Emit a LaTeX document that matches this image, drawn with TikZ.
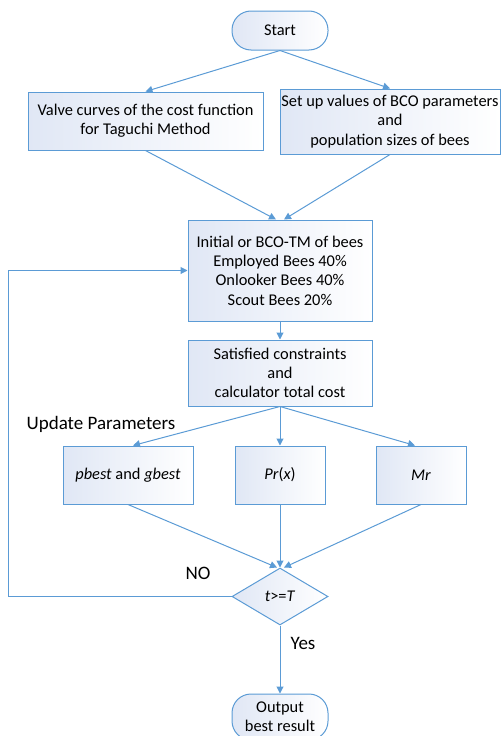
\documentclass[tikz,border=0pt]{standalone}
\usepackage{fontspec}
\setmainfont{Carlito}
\usetikzlibrary{shapes.geometric,arrows.meta}
\definecolor{flowline}{RGB}{91,155,213}
\definecolor{flowfill}{RGB}{224,231,245}
\tikzset{
  box/.style={draw=flowline, line width=1pt, left color=flowfill, right color=white, align=center, inner sep=0pt},
  term/.style={box, rounded corners=19pt},
  decide/.style={box, diamond},
  biglabel/.style={font=\fontsize{19}{22}\selectfont},
  flow/.style={draw=flowline, line width=1pt, -{Triangle[length=7pt,width=7pt]}}
}
\begin{document}
\begin{tikzpicture}[x=1pt,y=-1pt,font=\fontsize{16.4}{19.3}\selectfont]
\useasboundingbox (0,0) rectangle (501,736);
\node[term, minimum width=96pt, minimum height=39pt] (start) at (280,30.5) {Start};
\node[box, minimum width=235pt, minimum height=58pt] (valve) at (145.5,121) {Valve curves of the cost function\\for Taguchi Method};
\node[box, minimum width=220pt, minimum height=65pt] (setup) at (390,121.5) {Set up values of BCO parameters\\and\\population sizes of bees};
\node[box, minimum width=184pt, minimum height=101pt] (init) at (280,270.5) {Initial or BCO-TM of bees\\Employed Bees 40\%\\Onlooker Bees 40\%\\Scout Bees 20\%};
\node[box, minimum width=184pt, minimum height=66pt] (calc) at (280,373) {Satisfied constraints\\and\\calculator total cost};
\node[biglabel] (update) at (101,424) {Update Parameters};
\node[box, minimum width=130pt, minimum height=58pt] (best) at (128,475) {\textit{pbest} and \textit{gbest}};
\node[box, minimum width=90pt, minimum height=58pt] (prob) at (280,475) {\textit{Pr}(\textit{x})};
\node[box, minimum width=90pt, minimum height=58pt] (mr) at (421,475) {\textit{Mr}};
\node[decide, minimum width=96pt, minimum height=57pt] (check) at (280,596.5) {\textit{t}>=\textit{T}};
\node[term, minimum width=96pt, minimum height=46pt] (output) at (280,717) {Output\\best result};
\node[biglabel] (no) at (198,573) {NO};
\node[biglabel] (yes) at (303,643) {Yes};
% connectors
\draw[flow] (start.south) -- (valve.north);
\draw[flow] (start.south) -- (setup.north);
\draw[flow] (valve.south) -- ([xshift=-4pt]init.north);
\draw[flow] (setup.south) -- ([xshift=4pt]init.north);
\draw[flow] (init.south) -- (calc.north);
\draw[flow] (calc.south) -- ([xshift=5pt]best.north);
\draw[flow] (calc.south) -- (prob.north);
\draw[flow] (calc.south) -- ([xshift=-6pt]mr.north);
\draw[flow] (best.south) -- ([xshift=-3pt]check.north);
\draw[flow] (prob.south) -- (check.north);
\draw[flow] (mr.south) -- ([xshift=4pt]check.north);
\coordinate (loop) at (8.5,596.5);
\draw[flow] (check.west) -- (loop) |- (init.west);
\draw[flow] (check.south) -- (output.north);
\end{tikzpicture}
\end{document}
